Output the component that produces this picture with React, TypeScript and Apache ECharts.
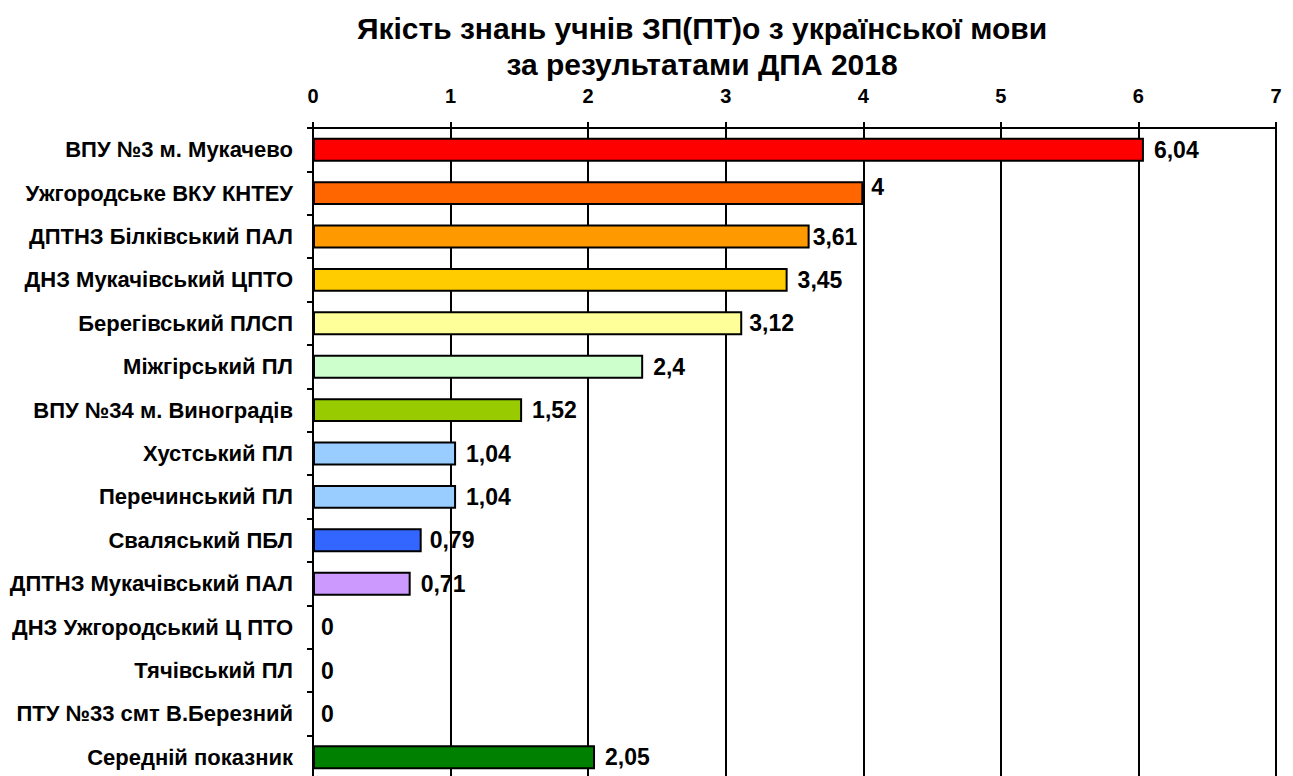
import React, { useEffect, useRef } from "react";
import * as echarts from "echarts";

const titleText = "Якість знань учнів ЗП(ПТ)о з української мови\nза результатами ДПА 2018";

const categories = [
  "ВПУ №3 м. Мукачево",
  "Ужгородське ВКУ КНТЕУ",
  "ДПТНЗ Білківський ПАЛ",
  "ДНЗ Мукачівський ЦПТО",
  "Берегівський ПЛСП",
  "Міжгірський ПЛ",
  "ВПУ №34 м. Виноградів",
  "Хустський ПЛ",
  "Перечинський ПЛ",
  "Сваляський ПБЛ",
  "ДПТНЗ Мукачівський ПАЛ",
  "ДНЗ Ужгородський Ц ПТО",
  "Тячівський ПЛ",
  "ПТУ №33 смт В.Березний",
  "Середній показник",
];

const values = [6.04, 4, 3.61, 3.45, 3.12, 2.4, 1.52, 1.04, 1.04, 0.79, 0.71, 0, 0, 0, 2.05];

const barColors = [
  "#FF0000",
  "#FF6600",
  "#FF9900",
  "#FFCC00",
  "#FFFF99",
  "#CCFFCC",
  "#99CC00",
  "#99CCFF",
  "#99CCFF",
  "#3366FF",
  "#CC99FF",
  "#FFFFFF",
  "#FFFFFF",
  "#FFFFFF",
  "#008000",
];

const labelOffsets: [number, number][] = [
  [0, 0], [-2, -6], [-7, 0], [0, 0], [-3, 0], [0, 0], [0, 0], [0, 0],
  [0, 0], [-2, 0], [0, 0], [-2, 0], [-2, 0], [-2, 0], [0, 0],
];

const xMin = 0;
const xMax = 7;
const xInterval = 1;

const FONT = "'Liberation Sans', Arial, sans-serif";

export default function App() {
  const ref = useRef<HTMLDivElement>(null);

  useEffect(() => {
    document.body.style.margin = "0";
    document.body.style.overflow = "hidden";
    if (!ref.current) return;
    const chart = echarts.init(ref.current, null, { renderer: "svg" });
    chart.setOption({
      animation: false,
      backgroundColor: "#FFFFFF",
      title: {
        text: titleText,
        left: 697,
        textAlign: "center",
        top: 5,
        textStyle: {
          fontFamily: FONT,
          fontWeight: "bold",
          fontSize: 30,
          lineHeight: 36,
          color: "#000",
        },
      },
      grid: {
        left: 313,
        right: 17,
        top: 128,
        bottom: 21,
        containLabel: false,
      },
      xAxis: {
        type: "value",
        position: "top",
        min: xMin,
        max: xMax,
        interval: xInterval,
        axisLine: { show: true, lineStyle: { color: "#000", width: 2 } },
        axisTick: { show: true, length: 6, lineStyle: { color: "#000", width: 2 } },
        axisLabel: {
          margin: 22,
          fontFamily: FONT,
          fontWeight: "bold",
          fontSize: 20,
          color: "#000",
        },
        splitLine: { show: true, lineStyle: { color: "#000", width: 2 } },
      },
      yAxis: {
        type: "category",
        inverse: true,
        data: categories,
        axisLine: { show: true, lineStyle: { color: "#000", width: 2 } },
        axisTick: { show: true, length: 6, lineStyle: { color: "#000", width: 2 } },
        axisLabel: {
          margin: 20,
          fontFamily: FONT,
          fontWeight: "bold",
          fontSize: 22,
          color: "#000",
        },
        splitLine: { show: false },
      },
      series: [
        {
          type: "bar",
          barWidth: "55%",
          data: values.map((v, i) => ({
            value: v,
            itemStyle: { color: barColors[i], borderColor: "#000", borderWidth: v === 0 ? 0 : 2 },
            label: { offset: labelOffsets[i] },
          })),
          label: {
            show: true,
            position: "right",
            distance: 10,
            fontFamily: FONT,
            fontWeight: "bold",
            fontSize: 23,
            color: "#000",
            formatter: (p: any) => String(p.value).replace(".", ","),
          },
        },
      ],
    });
    return () => chart.dispose();
  }, []);

  return (
    <div
      ref={ref}
      style={{ position: "fixed", left: 0, top: 0, width: 1293, height: 800 }}
    />
  );
}
